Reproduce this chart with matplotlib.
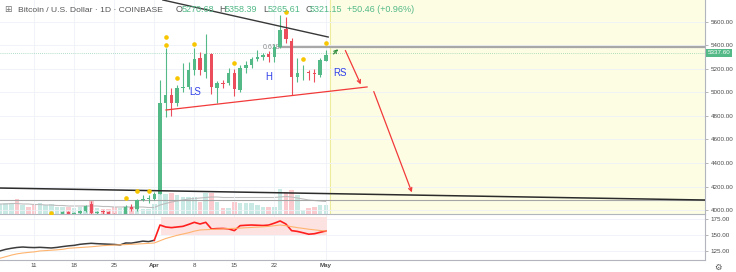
import numpy as np
import matplotlib.pyplot as plt
import matplotlib.transforms as mtransforms

plt.rcParams['font.family'] = ['Liberation Sans', 'DejaVu Sans']

# day number, 0 = 1 Apr 2019 (daily candles 5 Mar .. 1 May)
days = list(range(-27, 31))

opens = [3860, 3870, 3880, 3920, 3870, 3880, 3860, 3850, 3900, 3915,
         3945, 3960, 3985, 3966, 3972, 3994, 4055, 3975, 3991, 3980,
         3963, 3900, 3920, 4028, 4005, 4085, 4094, 4094, 4140, 4908,
         4975, 4908, 5036, 5045, 5192, 5291, 5177, 5325, 5038, 5083,
         5078, 5163, 5021, 5206, 5232, 5283, 5300, 5325, 5300, 5390,
         5538, 5441, 5135, 5172, 5177, 5168, 5150, 5270.68]
highs = [3885, 3895, 3935, 3930, 3890, 3895, 3870, 3910, 3925, 3958,
         3965, 3995, 3995, 3980, 4000, 4040, 4075, 3995, 3998, 3990,
         3975, 3935, 4040, 4050, 4095, 4130, 4125, 4150, 5110, 5376,
         5040, 5060, 5249, 5262, 5376, 5345, 5498, 5340, 5100, 5110,
         5209, 5200, 5230, 5270, 5305, 5362, 5340, 5350, 5410, 5660,
         5645, 5460, 5291, 5234, 5190, 5200, 5291, 5358.39]
lows = [3840, 3855, 3870, 3855, 3860, 3850, 3835, 3845, 3890, 3905,
        3930, 3950, 3955, 3950, 3960, 3985, 3960, 3965, 3970, 3955,
        3880, 3885, 3910, 3990, 3995, 4075, 4060, 4085, 4135, 4790,
        4800, 4885, 5000, 5030, 5149, 5149, 5123, 4990, 4908, 5040,
        5060, 4970, 5000, 5170, 5206, 5270, 5280, 5262, 5262, 5380,
        5420, 4979, 5092, 5106, 5106, 5092, 5130, 5265.61]
closes = [3870, 3880, 3920, 3870, 3880, 3860, 3850, 3900, 3915, 3945,
          3960, 3985, 3966, 3972, 3994, 4035, 3975, 3986, 3980, 3963,
          3900, 3920, 4028, 4005, 4085, 4096, 4098, 4140, 4908, 4979,
          4908, 5036, 5045, 5192, 5283, 5192, 5325, 5049, 5078, 5072,
          5169, 5027, 5206, 5232, 5283, 5305, 5319, 5300, 5390, 5532,
          5454, 5135, 5163, 5175, 5163, 5157, 5277, 5321.15]

# volume (arbitrary units) and its moving average as drawn
volume = [10, 10.7, 11.3, 14.7, 9, 7.3, 9, 10.7, 9, 10,
          7.3, 6.7, 6.7, 5.7, 6.7, 8, 13.3, 5.7, 4.7, 4.7,
          7.3, 5.7, 8, 6.7, 9, 4.7, 4.7, 10, 52, 20,
          20.7, 19, 17.3, 17.3, 17.3, 12.3, 21.3, 21.3, 12.3, 5.7,
          5.7, 12.3, 10.7, 10.7, 10.7, 9, 7.3, 7.3, 7.3, 24.7,
          22.3, 24, 19, 4, 5.7, 7.3, 9, 9]
vol_ma = [10, 10, 10.5, 10.5, 10, 10, 9.5, 9.5,
          9, 9, 8.5, 8.5, 8, 8, 8, 8, 8, 8,
          7.5, 7.5, 7, 7, 7, 7, 7, 7, 6.5, 6.5,
          9, 10.5, 12, 13, 14, 15, 15.5, 16, 16.5, 17,
          17, 16.5, 16.5, 16.5, 16.5, 16.5, 16.5, 16.5, 16.5, 16.5,
          16.5, 17, 17.5, 17, 16, 15, 14, 13.5, 13, 12.5]

# lower indicator pane
ind_days_a = list(range(-27, 1))
ind_a = [125.0, 127.5, 129.2, 130.5, 131.2, 130.6, 130.3, 130.7, 130.2, 129.7,
         130.6, 131.9, 133.0, 133.8, 135.4, 136.3, 137.0, 136.4, 136.0, 135.6,
         135.2, 134.4, 137.5, 137.3, 138.8, 140.4, 139.6, 141.7]
ind_days_b = list(range(0, 31))
ind_b = [141.7, 165.6, 162.5, 161.5, 162.5, 163.5, 166.5, 169.8, 167.2, 169.8,
         159.4, 160.0, 160.2, 159.5, 156.8, 164.6, 165.2, 165.6, 165.2, 164.8,
         165.5, 168.5, 171.9, 167.2, 156.8, 155.6, 153.5, 151.2, 152.0, 154.2, 156.3]
ind_ma = [113.6, 116, 118.5, 120.5, 121.8, 122.8, 123.6, 125, 125.6, 126.2,
          126.8, 127.6, 129.2, 129.8, 130.4, 131, 131.6, 132.4, 133.3, 133.8,
          134.2, 134.6, 135, 135.4, 135.9, 136.4, 136.9, 137.5, 141, 144.5,
          147, 149.5, 151.5, 153.5, 156, 157.8, 158.3, 158.7, 159.1, 159.5,
          160, 160.4, 160.8, 161.3, 161.8, 162.3, 162.8, 163.5, 164.5, 165.6,
          164.5, 163, 161.5, 160.3, 159, 158, 157, 156.3]

dot_days = [-18, -5, -3, -1, 2, 2, 4, 7, 14, 23, 26, 30]
dot_prices = [3974, 4100, 4162, 4162, 5470, 5404, 5126, 5413, 5254, 5688, 5283, 5419]

tick_days = [-21, -14, -7, 0, 7, 14, 21, 30]
tick_labels = ['11', '18', '25', 'Apr', '8', '15', '22', 'May']
price_ticks = list(range(4000, 5601, 200))
last_price = 5337.60

UP, DOWN = '#53b987', '#eb4d5c'
W, H = 736, 272

fig = plt.figure(figsize=(W / 100, H / 100), dpi=100)
ax = fig.add_axes([0, 58 / H, 705 / W, 214 / H])
axv = ax.twinx()
axi = fig.add_axes([0, 12 / H, 705 / W, 46 / H], sharex=ax)

ax.set_zorder(2)
axv.set_zorder(1)
ax.patch.set_visible(False)
axv.patch.set_facecolor('white')

# projection zone
axv.axvspan(30.8, 120, color='#fdfde4', zorder=0)
axv.axvline(30.8, color='#ecec9c', lw=0.8, zorder=0)

# volume
up = [c >= o for o, c in zip(opens, closes)]
vcols = ['#c9e9e4' if u else '#fbcace' for u in up]
axv.bar(days, volume, width=0.8, color=vcols, lw=0)
axv.plot(days, vol_ma, color='#bdbdbd', lw=0.8)
axv.set_ylim(0, 214)
axv.set_yticks([])
for s in axv.spines.values():
    s.set_visible(False)

# drawings
ax.axhline(4089, color='#a5a5a5', lw=0.8, zorder=1)
ax.axhline(last_price, color=UP, lw=0.6, ls=(0, (1, 1.5)), alpha=0.6, zorder=1)
ax.plot([-27, 96.3], [4187, 4085], color='#2b2b2b', lw=1.1, zorder=3)
ax.plot([1.5, 30.4], [5787, 5472], color='#383838', lw=1.0, zorder=3)
ax.plot([22, 96.3], [5390, 5390], color='#a8a8a8', lw=1.6, zorder=1)
ax.text(19.0, 5385, '0.618', fontsize=5, color='#8a8a8a', va='center', zorder=1)

# candles
ccols = [UP if u else DOWN for u in up]
ax.vlines(days, lows, highs, colors=ccols, lw=0.8, zorder=2)
bottoms = [min(o, c) for o, c in zip(opens, closes)]
heights = [max(abs(c - o), 6) for o, c in zip(opens, closes)]
ax.bar(days, heights, bottom=bottoms, width=0.6, color=ccols, lw=0, zorder=2)

ax.scatter(dot_days, dot_prices, s=11, color='#f7c600', zorder=5, lw=0)

red = '#f23a3a'
ax.plot([2.05, 37.2], [4851, 5047], color=red, lw=0.9, zorder=4)
ax.annotate('', xy=(36.3, 5047), xytext=(33.2, 5379),
            arrowprops=dict(arrowstyle='->', color=red, lw=0.9, mutation_scale=6), zorder=4)
ax.annotate('', xy=(45.2, 4128), xytext=(38.2, 5030),
            arrowprops=dict(arrowstyle='->', color=red, lw=0.9, mutation_scale=6), zorder=4)
ax.annotate('', xy=(32.5, 5387), xytext=(31.0, 5311),
            arrowprops=dict(arrowstyle='->', color='#2e8b3c', lw=0.9, ls='--',
                            mutation_scale=6), zorder=4)

for x, y, t in [(7.1, 5004, 'LS'), (20.0, 5128, 'H'), (32.5, 5170, 'RS')]:
    ax.text(x, y, t, color='#3040e8', fontsize=7, ha='center', va='center', zorder=4)

ax.set_xlim(-26.97, 96.27)
ax.set_ylim(3966, 5787)
ax.yaxis.tick_right()
ax.set_yticks(price_ticks)
ax.set_yticklabels([f'{v:.2f}' for v in price_ticks])
ax.tick_params(axis='y', labelsize=4.5, labelcolor='#4a4a4a', color='#9a9a9a',
               length=2.5, width=0.5, pad=1.5)
ax.tick_params(axis='x', length=0, labelbottom=False)
ax.set_xticks(tick_days)
ax.grid(True, color='#eef1f6', lw=0.6)
ax.set_axisbelow(True)
for k in ['top', 'left']:
    ax.spines[k].set_visible(False)
for k in ['right', 'bottom']:
    ax.spines[k].set_color('#b2b5be')
    ax.spines[k].set_linewidth(0.8)

tr = mtransforms.blended_transform_factory(ax.transAxes, ax.transData)
ax.text(1.004, last_price, f'{last_price:.2f}', transform=tr, fontsize=4.5, color='white',
        va='center', ha='left', zorder=6,
        bbox=dict(boxstyle='square,pad=0.25', fc=UP, ec='none'))

# indicator pane
axi.fill_between([1.2, 30.2], 150.5, 178, color='#fde2e2', lw=0)
axi.plot(ind_days_a, ind_a, color='#3c3c3c', lw=1.1)
axi.plot(ind_days_b, ind_b, color='#ff1f1f', lw=1.2)
axi.plot(days, ind_ma, color='#ffb46e', lw=0.8)
axi.set_ylim(110.9, 182.8)
axi.yaxis.tick_right()
axi.set_yticks([125, 150, 175])
axi.set_yticklabels(['125.00', '150.00', '175.00'])
axi.tick_params(axis='y', labelsize=4.5, labelcolor='#4a4a4a', color='#9a9a9a',
                length=2.5, width=0.5, pad=1.5)
axi.set_xticks(tick_days)
axi.set_xticklabels(tick_labels)
axi.tick_params(axis='x', labelsize=4.5, labelcolor='#4a4a4a', length=0, pad=2.5)
for lab in axi.get_xticklabels():
    if lab.get_text() in ('Apr', 'May'):
        lab.set_fontweight('bold')
axi.grid(True, color='#eef1f6', lw=0.6)
axi.set_axisbelow(True)
for k in ['top', 'left']:
    axi.spines[k].set_visible(False)
for k in ['right', 'bottom']:
    axi.spines[k].set_color('#b2b5be')
    axi.spines[k].set_linewidth(0.8)

# header
def ftext(x, y, s, **kw):
    fig.text(x / W, 1 - y / H, s, va='center', ha='left', **kw)

ftext(4, 10, '⊞', fontsize=6.5, color='#777777', family='DejaVu Sans')
ftext(18, 10, 'Bitcoin / U.S. Dollar · 1D · COINBASE', fontsize=6.1, color='#555555')
for x, s, c in [(176, 'O', '#555555'), (181.5, '5270.68', UP), (219, 'H', '#555555'),
                (225, '5358.39', UP), (263, 'L', '#555555'), (267.5, '5265.61', UP),
                (305, 'C', '#555555'), (310, '5321.15', UP), (347, '+50.46 (+0.96%)', UP)]:
    ftext(x, 10, s, fontsize=6.5, color=c)
ftext(714, 267, '⚙', fontsize=6, color='#555555', family='DejaVu Sans')

fig.savefig('out.png', dpi=100)
